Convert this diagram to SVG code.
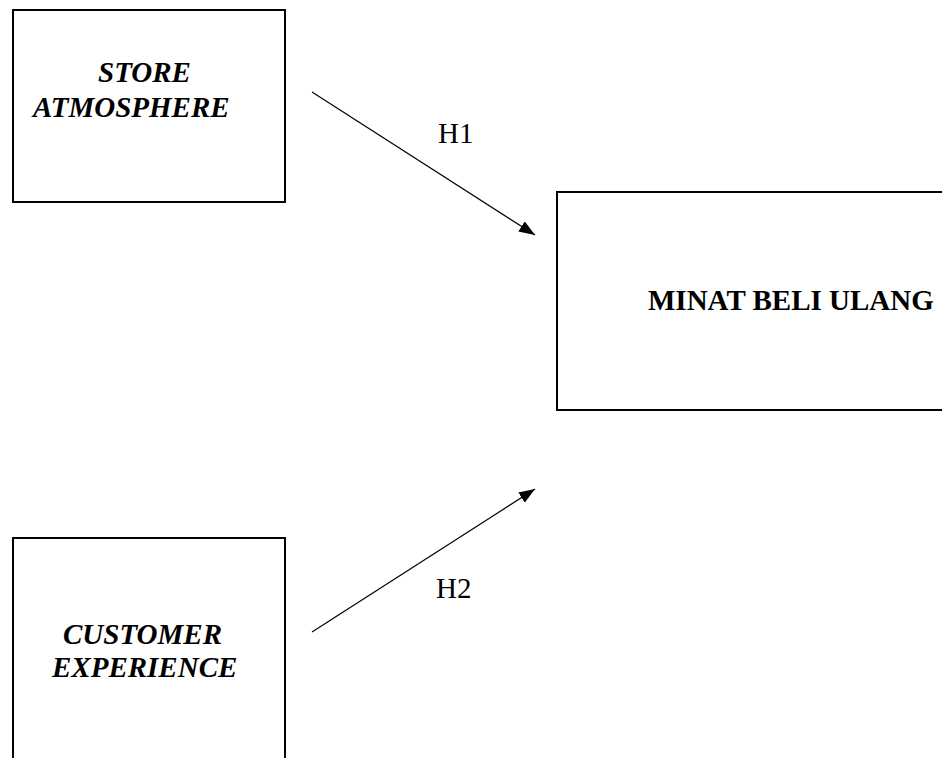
<svg xmlns="http://www.w3.org/2000/svg" width="942" height="758" viewBox="0 0 942 758">
  <style>
    .box { fill: #ffffff; stroke: #000000; stroke-width: 2; }
    .lbl { font-family: "Liberation Serif", "Times New Roman", serif; font-size: 29px; fill: #000000; }
    .bi { font-weight: bold; font-style: italic; }
    .b { font-weight: bold; }
    .edge { stroke: #000000; stroke-width: 1.2; fill: none; marker-end: url(#tri); }
  </style>
  <defs>
    <marker id="tri" viewBox="0 0 16 12" refX="16" refY="6" markerWidth="16" markerHeight="12" markerUnits="userSpaceOnUse" orient="auto">
      <path d="M0,0 L16,6 L0,12 Z" fill="#000000"/>
    </marker>
  </defs>
  <rect width="942" height="758" fill="#ffffff"/>

  <g id="store-atmosphere">
    <rect class="box" x="13" y="10" width="272" height="192"/>
    <text class="lbl bi" x="98" y="82">STORE</text>
    <text class="lbl bi" x="33" y="117">ATMOSPHERE</text>
  </g>

  <g id="customer-experience">
    <rect class="box" x="13" y="538" width="272" height="240"/>
    <text class="lbl bi" x="63" y="644">CUSTOMER</text>
    <text class="lbl bi" x="52" y="677">EXPERIENCE</text>
  </g>

  <g id="minat-beli-ulang">
    <rect class="box" x="557" y="192" width="400" height="218"/>
    <text class="lbl b" x="648" y="310">MINAT BELI ULANG</text>
  </g>

  <g id="connectors">
    <line class="edge" x1="312" y1="92" x2="535" y2="235"/>
    <line class="edge" x1="312" y1="632" x2="535" y2="489"/>
    <text class="lbl" x="438" y="143">H1</text>
    <text class="lbl" x="436" y="598">H2</text>
  </g>
</svg>
